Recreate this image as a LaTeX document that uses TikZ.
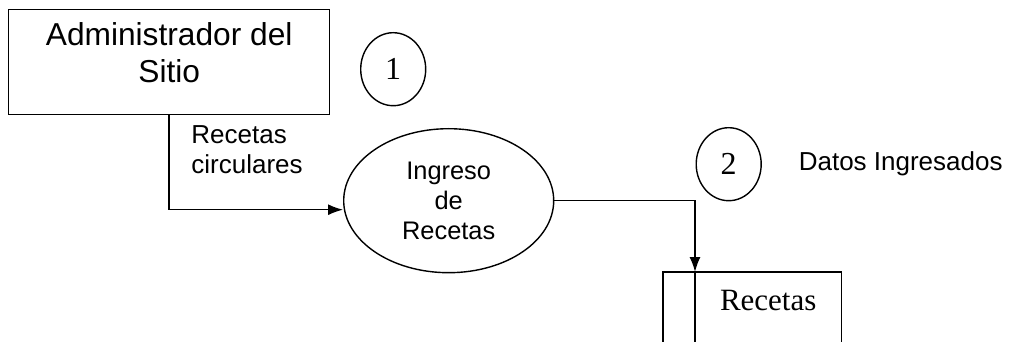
\documentclass[tikz,border=0pt]{standalone}
\usepackage{fontspec}
\setmainfont{Liberation Sans}
\newfontfamily\timesfont{Liberation Serif}
\usetikzlibrary{positioning,arrows.meta,calc,shapes.geometric}
\tikzset{
    on grid,
    auto,
    entity/.style = {
        draw,
        shape=rectangle,
        minimum height=52.5pt,
        minimum width=160.5pt,
        align=center,
        text depth=9.5pt,
        font=\fontsize{15.85}{18.5}\selectfont
    },
    process/.style = {
        draw,
        shape=ellipse,
        minimum height=72pt,
        minimum width=105pt,
        inner sep=0pt,
        align=center,
        font=\fontsize{12.7}{15}\selectfont
    },
    stepnum/.style = {
        draw,
        shape=ellipse,
        minimum height=36.5pt,
        minimum width=32.5pt,
        inner sep=0pt,
        font=\timesfont\fontsize{16}{18}\selectfont
    },
    datastore/.style = {
        shape=rectangle,
        minimum height=28pt,
        minimum width=72.5pt,
        font=\timesfont\fontsize{15.5}{18}\selectfont
    },
    flowlabel/.style = {
        inner sep=0pt,
        align=left,
        font=\fontsize{13}{15}\selectfont
    },
    >={Latex[length=7.5pt,width=5.5pt]},
}

\begin{document}
\begin{tikzpicture}[line width=0.7pt]
    \node[entity] (admin) {Administrador del\\Sitio};
    \node[stepnum, below right=3.5pt and 112pt of admin] (uno) {1};
    \node[process, below right=69.25pt and 139.75pt of admin] (ingreso) {Ingreso\\de\\Recetas};
    \node[stepnum, above right=18.25pt and 140pt of ingreso] (dos) {2};
    \node[flowlabel, right=86pt of dos] (datos) {Datos Ingresados};
    \node[datastore, below right=50pt and 159.75pt of ingreso] (recetas) {Recetas};
    \node[flowlabel, below right=17pt and 10.75pt of admin.south, anchor=west] (circ) {Recetas\\circulares};

    \useasboundingbox ($(admin.north west)+(-4pt,4.5pt)$) rectangle ++(506pt,-171pt);

    \draw[->] (admin.south) |- ([yshift=-4.5pt]ingreso.west);
    \draw[->] (ingreso.east) -| (recetas.north west);
    \draw (recetas.north west) -- ([yshift=-7pt]recetas.south west);
    \draw ([xshift=-16pt,yshift=-7pt]recetas.south west) |- (recetas.north east) -- ([yshift=-7pt]recetas.south east);
\end{tikzpicture}
\end{document}
